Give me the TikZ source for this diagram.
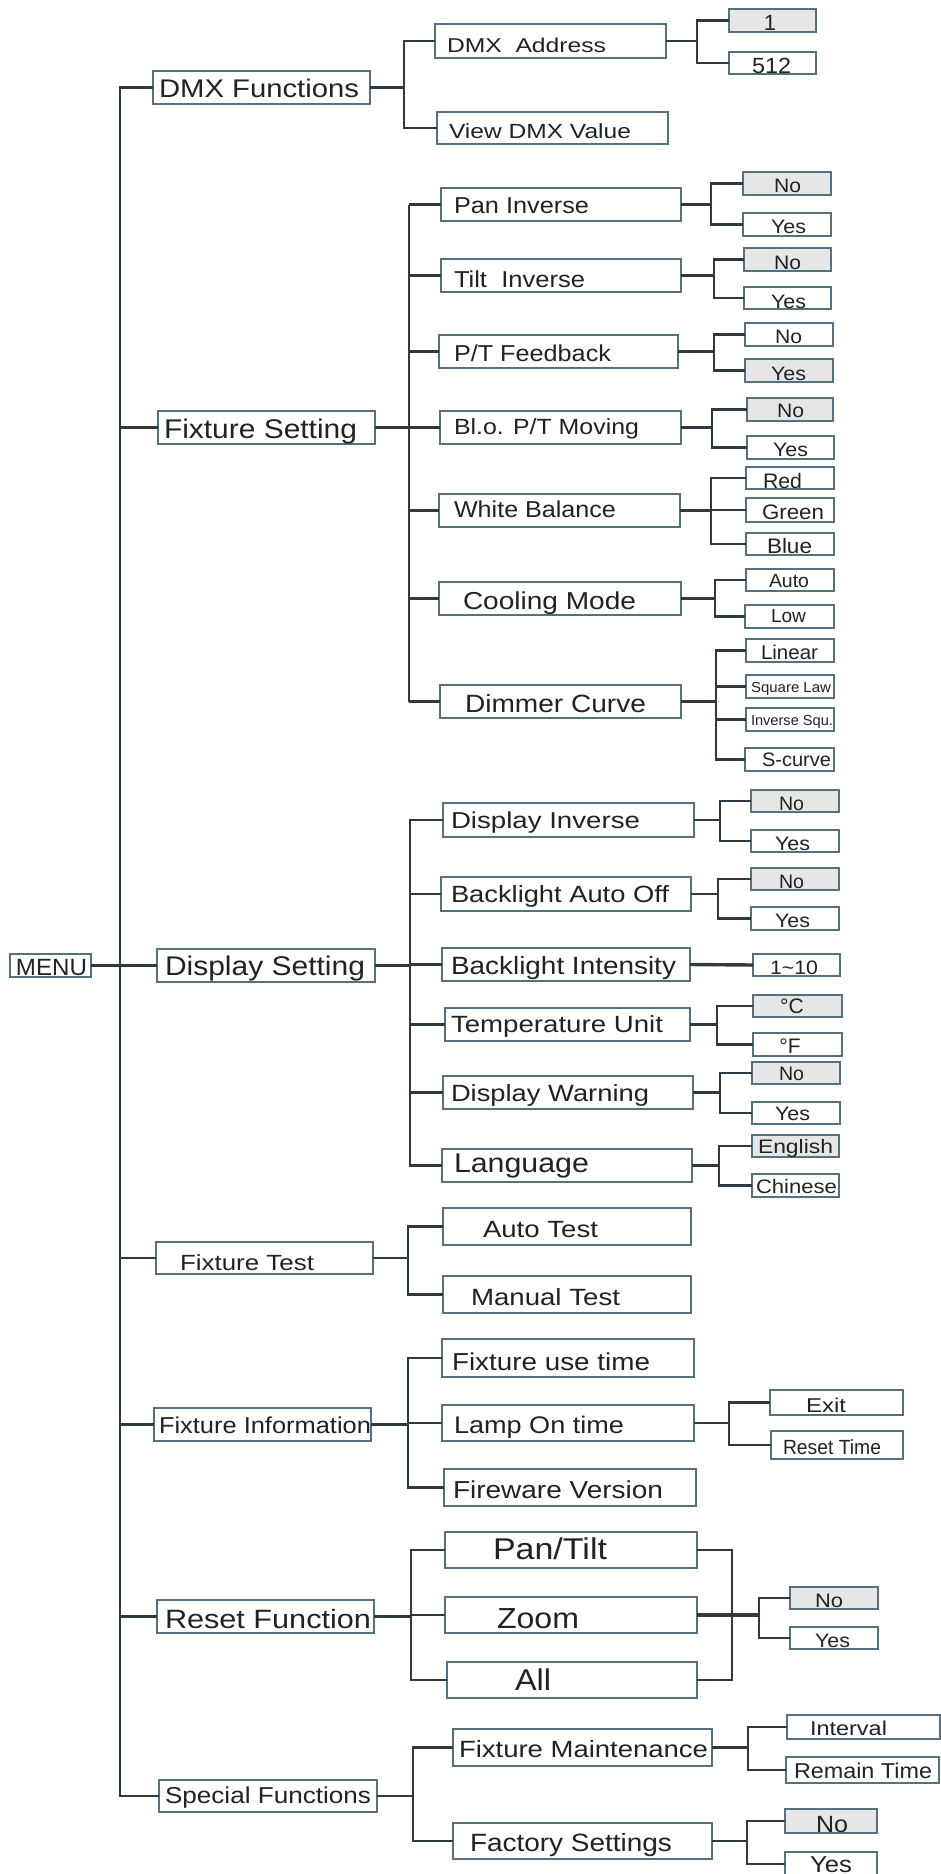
\documentclass[tikz,border=0pt]{standalone}
\usepackage{fontspec}
\setmainfont{Liberation Sans}
\usepackage{graphicx}
\definecolor{wirec}{HTML}{2E3A40}
\definecolor{boxc}{HTML}{55707E}
\definecolor{selc}{HTML}{E6E6E6}
\definecolor{txtc}{HTML}{1E2326}
\newcommand\bx[6]{%
  \node[box,#6,minimum width={(#4)-(#2)},minimum height={(#5)-(#3)}] (#1) at ({((#2)+(#4))/2},{((#3)+(#5))/2}) {};}
\newcommand\tx[6]{%
  \node[txt] (#1) at (#2,#3) {\fontsize{#4}{#4}\selectfont\resizebox{#5pt}{\height}{#6}};}
\newcommand\txc[5]{%
  \node[txt,anchor=base] (#1) at (#2,#3) {\fontsize{#4}{#4}\selectfont #5};}
\newcommand\bus[4]{%
  \coordinate (#1-b) at (#2,0);
  \draw[wire] (#1.east) -- (#1.east -| #1-b);
  \draw[wire] (#3.west) -- (#3.west -| #1-b) -- (#4.west -| #1-b) -- (#4.west);}
\newcommand\midch[2]{\draw[wire] (#2.west) -- (#2.west -| #1-b);}
\begin{document}
\begin{tikzpicture}[x=1pt,y=-1pt,
  box/.style={draw=boxc,line width=1.3pt,fill=white,inner sep=0pt,outer sep=0pt},
  sel/.style={fill=selc},
  plain/.style={},
  wire/.style={draw=wirec,line width=2.3pt},
  wirethick/.style={draw=wirec,line width=3.4pt},
  txt/.style={anchor=base west,inner sep=0pt,outer sep=0pt,text=txtc}]
\useasboundingbox[fill=white] (0,0) rectangle (941,1874);
% ---------- level 1 ----------
\bx{menu}{10}{954}{91}{977}{plain}
\bx{dmxf}{153}{71}{370}{104}{plain}
\bx{fixs}{158}{411}{375}{444}{plain}
\bx{disps}{157}{949}{375}{982}{plain}
\bx{fixt}{156}{1242}{373}{1274}{plain}
\bx{fixi}{154}{1408}{371}{1441}{plain}
\bx{resf}{157}{1600}{374}{1633}{plain}
\bx{spf}{159}{1780}{377}{1812}{plain}
\tx{menut}{16}{975}{23.5}{71}{MENU}
\tx{dmxft}{159}{97}{25.5}{200}{DMX Functions}
\tx{fixst}{164}{438}{27}{193}{Fixture Setting}
\tx{dispst}{165}{975}{27}{200}{Display Setting}
\tx{fixtt}{180}{1270}{22}{134}{Fixture Test}
\tx{fixit}{159}{1433}{23}{212}{Fixture Information}
\tx{resft}{165}{1628}{26.5}{206}{Reset Function}
\tx{spft}{165}{1803}{23}{206}{Special Functions}
% ---------- level 2 ----------
\bx{dmxa}{435}{24}{666}{58}{plain}
\bx{vdmx}{437}{112}{668}{144}{plain}
\bx{pani}{441}{188}{681}{221}{plain}
\bx{tilti}{441}{259}{681}{292}{plain}
\bx{ptf}{439}{335}{678}{368}{plain}
\bx{blo}{440}{411}{681}{444}{plain}
\bx{wb}{439}{494}{680}{527}{plain}
\bx{cool}{439}{582}{681}{615}{plain}
\bx{dim}{440}{685}{681}{718}{plain}
\bx{dinv}{443}{803}{694}{837}{plain}
\bx{bao}{441}{877}{691}{911}{plain}
\bx{bli}{442}{948}{690}{981}{plain}
\bx{tu}{445}{1008}{690}{1041}{plain}
\bx{dw}{443}{1076}{693}{1109}{plain}
\bx{lang}{442}{1149}{692}{1182}{plain}
\bx{at}{443}{1208}{691}{1245}{plain}
\bx{mt}{443}{1276}{691}{1313}{plain}
\bx{fut}{442}{1339}{694}{1377}{plain}
\bx{lot}{442}{1405}{694}{1441}{plain}
\bx{fv}{444}{1469}{696}{1506}{plain}
\bx{pt}{445}{1532}{697}{1568}{plain}
\bx{zoom}{445}{1597}{697}{1633}{plain}
\bx{all}{447}{1662}{697}{1698}{plain}
\bx{fm}{453}{1729}{712}{1766}{plain}
\bx{fs}{453}{1823}{712}{1859}{plain}
\tx{dmxat}{447}{52}{20}{159}{DMX~~Address}
\tx{vdmxt}{449}{138}{20.5}{182}{View DMX Value}
\tx{panit}{454}{213}{23}{135}{Pan Inverse}
\tx{tiltit}{454}{287}{23}{131}{Tilt~~Inverse}
\tx{ptft}{454}{361}{23}{157}{P/T Feedback}
\tx{blot}{454}{434}{22}{185}{Bl.o. P/T Moving}
\tx{wbt}{454}{517}{23}{162}{White Balance}
\tx{coolt}{463}{609}{24.5}{173}{Cooling Mode}
\tx{dimt}{465}{712}{25}{181}{Dimmer Curve}
\tx{dinvt}{451}{828}{23}{189}{Display Inverse}
\tx{baot}{451}{902}{23.5}{218}{Backlight Auto Off}
\tx{blit}{451}{974}{25}{225}{Backlight Intensity}
\tx{tut}{451}{1032}{23.5}{212}{Temperature Unit}
\tx{dwt}{451}{1101}{23.5}{198}{Display Warning}
\tx{langt}{454}{1172}{27}{135}{Language}
\tx{att}{483}{1237}{23.5}{115}{Auto Test}
\tx{mtt}{471}{1305}{23.5}{149}{Manual Test}
\tx{futt}{452}{1370}{24.5}{198}{Fixture use time}
\tx{lott}{454}{1433}{24}{170}{Lamp On time}
\tx{fvt}{453}{1498}{24.5}{210}{Fireware Version}
\tx{ptt}{493}{1559}{30}{114}{Pan/Tilt}
\tx{zoomt}{497}{1628}{29}{82}{Zoom}
\tx{allt}{515}{1690}{30}{36}{All}
\tx{fmt}{459}{1757}{23.5}{249}{Fixture Maintenance}
\tx{fst}{470}{1851}{25}{202}{Factory Settings}
% ---------- level 3 ----------
\bx{a1}{729}{9}{816}{32}{sel}
\bx{a512}{729}{52}{816}{74}{plain}
\bx{pno}{743}{172}{831}{195}{sel}
\bx{pyes}{743}{213}{831}{236}{plain}
\bx{tno}{744}{248}{831}{271}{sel}
\bx{tyes}{744}{287}{831}{309}{plain}
\bx{fno}{745}{323}{833}{346}{plain}
\bx{fyes}{745}{359}{833}{382}{sel}
\bx{bno}{747}{398}{833}{421}{sel}
\bx{byes}{747}{436}{834}{459}{plain}
\bx{red}{746}{467}{834}{489}{plain}
\bx{green}{746}{498}{834}{522}{plain}
\bx{blue}{746}{533}{834}{555}{plain}
\bx{auto}{746}{569}{834}{591}{plain}
\bx{low}{745}{605}{834}{628}{plain}
\bx{lin}{746}{639}{834}{662}{plain}
\bx{sq}{746}{675}{834}{698}{plain}
\bx{isq}{746}{708}{834}{731}{plain}
\bx{sc}{745}{748}{834}{771}{plain}
\bx{dno}{751}{790}{839}{812}{sel}
\bx{dyes}{751}{830}{839}{852}{plain}
\bx{bano}{751}{868}{839}{890}{sel}
\bx{bayes}{751}{907}{839}{930}{plain}
\bx{i10}{753}{954}{840}{976}{plain}
\bx{degc}{753}{995}{842}{1017}{sel}
\bx{degf}{753}{1033}{842}{1056}{plain}
\bx{dwno}{752}{1062}{840}{1084}{sel}
\bx{dwyes}{752}{1102}{840}{1124}{plain}
\bx{eng}{752}{1135}{839}{1157}{sel}
\bx{chi}{752}{1174}{839}{1197}{plain}
\bx{exit}{770}{1390}{903}{1415}{plain}
\bx{rt}{771}{1431}{903}{1459}{plain}
\bx{rno}{790}{1587}{878}{1609}{sel}
\bx{ryes}{790}{1627}{878}{1649}{plain}
\bx{intv}{787}{1715}{940}{1739}{plain}
\bx{remt}{786}{1757}{939}{1783}{plain}
\bx{fsno}{785}{1809}{877}{1833}{sel}
\bx{fsyes}{785}{1852}{877}{1876}{plain}
\txc{a1t}{770}{30}{22}{1}
\tx{a512t}{752}{73}{22}{39}{512}
\tx{pnot}{774}{192}{19.5}{27}{No}
\tx{pyest}{771}{233}{19.5}{35}{Yes}
\tx{tnot}{774}{269}{19.5}{27}{No}
\tx{tyest}{771}{308}{19.5}{35}{Yes}
\tx{fnot}{775}{343}{19.5}{27}{No}
\tx{fyest}{771}{380}{19.5}{35}{Yes}
\tx{bnot}{777}{417}{19.5}{27}{No}
\tx{byest}{773}{456}{19.5}{35}{Yes}
\tx{redt}{763}{488}{21}{39}{Red}
\tx{greent}{762}{519}{21}{62}{Green}
\tx{bluet}{767}{553}{21}{45}{Blue}
\tx{autot}{769}{587}{19}{40}{Auto}
\tx{lowt}{771}{622}{19}{35}{Low}
\tx{lint}{761}{659}{20}{57}{Linear}
\tx{sqt}{751}{692}{14.5}{80}{Square Law}
\tx{isqt}{751}{725}{14.5}{82}{Inverse Squ.}
\tx{sct}{762}{766}{19.5}{69}{S-curve}
\tx{dnot}{779}{810}{19.5}{25}{No}
\tx{dyest}{775}{850}{19.5}{35}{Yes}
\tx{banot}{779}{888}{19.5}{25}{No}
\tx{bayest}{775}{927}{19.5}{35}{Yes}
\tx{i10t}{770}{974}{19.5}{48}{1\textasciitilde 10}
\txc{degct}{792}{1013}{21}{°C}
\txc{degft}{790}{1053}{21}{°F}
\tx{dwnot}{779}{1080}{19.5}{25}{No}
\tx{dwyest}{775}{1120}{19.5}{35}{Yes}
\tx{engt}{758}{1153}{19.5}{75}{English}
\tx{chit}{756}{1193}{19.5}{81}{Chinese}
\tx{exitt}{806}{1412}{20}{40}{Exit}
\tx{rtt}{783}{1454}{20.5}{98}{Reset Time}
\tx{rnot}{815}{1607}{19.5}{28}{No}
\tx{ryest}{815}{1647}{19.5}{35}{Yes}
\tx{intvt}{810}{1735}{20}{77}{Interval}
\tx{remtt}{794}{1778}{21.5}{138}{Remain Time}
\tx{fsnot}{816}{1832}{23.5}{32}{No}
\tx{fsyest}{810}{1872}{23}{42}{Yes}
% ---------- connectors ----------
\draw[wire] (dmxf.west) -- ++(-33,0) |- (spf.west);
\coordinate (trk) at ([xshift=-33pt]dmxf.west);
\draw[wire] (menu.east) -- (disps.west);
\foreach \n in {fixs,fixt,fixi,resf} \draw[wire] (\n.west) -- (\n.west -| trk);
% DMX Functions
\bus{dmxf}{404}{dmxa}{vdmx}
\bus{dmxa}{697}{a1}{a512}
% Fixture Setting
\coordinate (fixs-b) at (409,0);
\draw[wire] (fixs.east) -- (fixs.east -| fixs-b);
\draw[draw=wirec,line width=1.3pt] (pani.west -| fixs-b) -- (dim.west -| fixs-b);
\foreach \n in {pani,tilti,ptf,blo,wb,cool,dim} \draw[wire] (\n.west) -- (\n.west -| fixs-b);
\bus{pani}{711}{pno}{pyes}
\bus{tilti}{714}{tno}{tyes}
\bus{ptf}{714}{fno}{fyes}
\bus{blo}{712}{bno}{byes}
\bus{wb}{711}{red}{blue}
\midch{wb}{green}
\bus{cool}{715}{auto}{low}
\bus{dim}{716}{lin}{sc}
\midch{dim}{sq}
\midch{dim}{isq}
% Display Setting
\bus{disps}{410}{dinv}{lang}
\foreach \n in {bao,bli,tu,dw} {\midch{disps}{\n}}
\bus{dinv}{720}{dno}{dyes}
\bus{bao}{718}{bano}{bayes}
\draw[wirethick] (bli.east) -- (i10.west);
\bus{tu}{717}{degc}{degf}
\bus{dw}{720}{dwno}{dwyes}
\bus{lang}{719}{eng}{chi}
% Fixture Test
\bus{fixt}{408}{at}{mt}
% Fixture Information
\bus{fixi}{408}{fut}{fv}
\midch{fixi}{lot}
\bus{lot}{729}{exit}{rt}
% Reset Function
\bus{resf}{411}{pt}{all}
\midch{resf}{zoom}
\coordinate (rr) at (732,0);
\draw[wire] (pt.east) -- (pt.east -| rr) -- (all.east -| rr) -- (all.east);
\coordinate (rn) at (759,0);
\draw[wirethick] (zoom.east) -- (zoom.east -| rn);
\draw[wire] (rno.west) -- (rno.west -| rn) -- (ryes.west -| rn) -- (ryes.west);
% Special Functions
\bus{spf}{413}{fm}{fs}
\bus{fm}{748}{intv}{remt}
\bus{fs}{747}{fsno}{fsyes}
\end{tikzpicture}
\end{document}
